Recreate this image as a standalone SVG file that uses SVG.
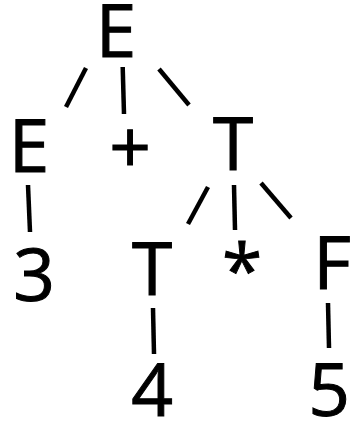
<svg xmlns="http://www.w3.org/2000/svg" width="352" height="423" viewBox="0 0 352 423">
<style>
text{font-family:"Open Sans",sans-serif;font-size:73px;fill:#000;stroke:#000;stroke-width:1;text-anchor:middle}
.c line{stroke:#000;stroke-width:4.5}
</style>
<rect width="352" height="423" fill="#fff"/>
<g class="c" id="connectors">
<line x1="86" y1="68" x2="66" y2="107"/>
<line x1="122.7" y1="67" x2="124" y2="114"/>
<line x1="159" y1="69" x2="189" y2="105"/>
<line x1="28" y1="185" x2="30" y2="232"/>
<line x1="208" y1="187" x2="188" y2="224"/>
<line x1="234" y1="185" x2="235" y2="230"/>
<line x1="261" y1="183" x2="291" y2="218"/>
<line x1="153" y1="308" x2="154" y2="354"/>
<line x1="328" y1="303" x2="329" y2="348"/>
</g>
<g id="n-E-root"><text x="116" y="57">E</text></g>
<g id="n-E"><text x="29" y="172">E</text></g>
<g id="n-plus"><text x="130" y="173">+</text></g>
<g id="n-T"><text x="233" y="170">T</text></g>
<g id="n-3"><text x="34" y="301">3</text></g>
<g id="n-T2"><text x="152" y="295">T</text></g>
<g id="n-star"><text x="242" y="297">*</text></g>
<g id="n-F"><text x="332" y="289">F</text></g>
<g id="n-4"><text x="152" y="416">4</text></g>
<g id="n-5"><text x="329" y="416">5</text></g>
</svg>
